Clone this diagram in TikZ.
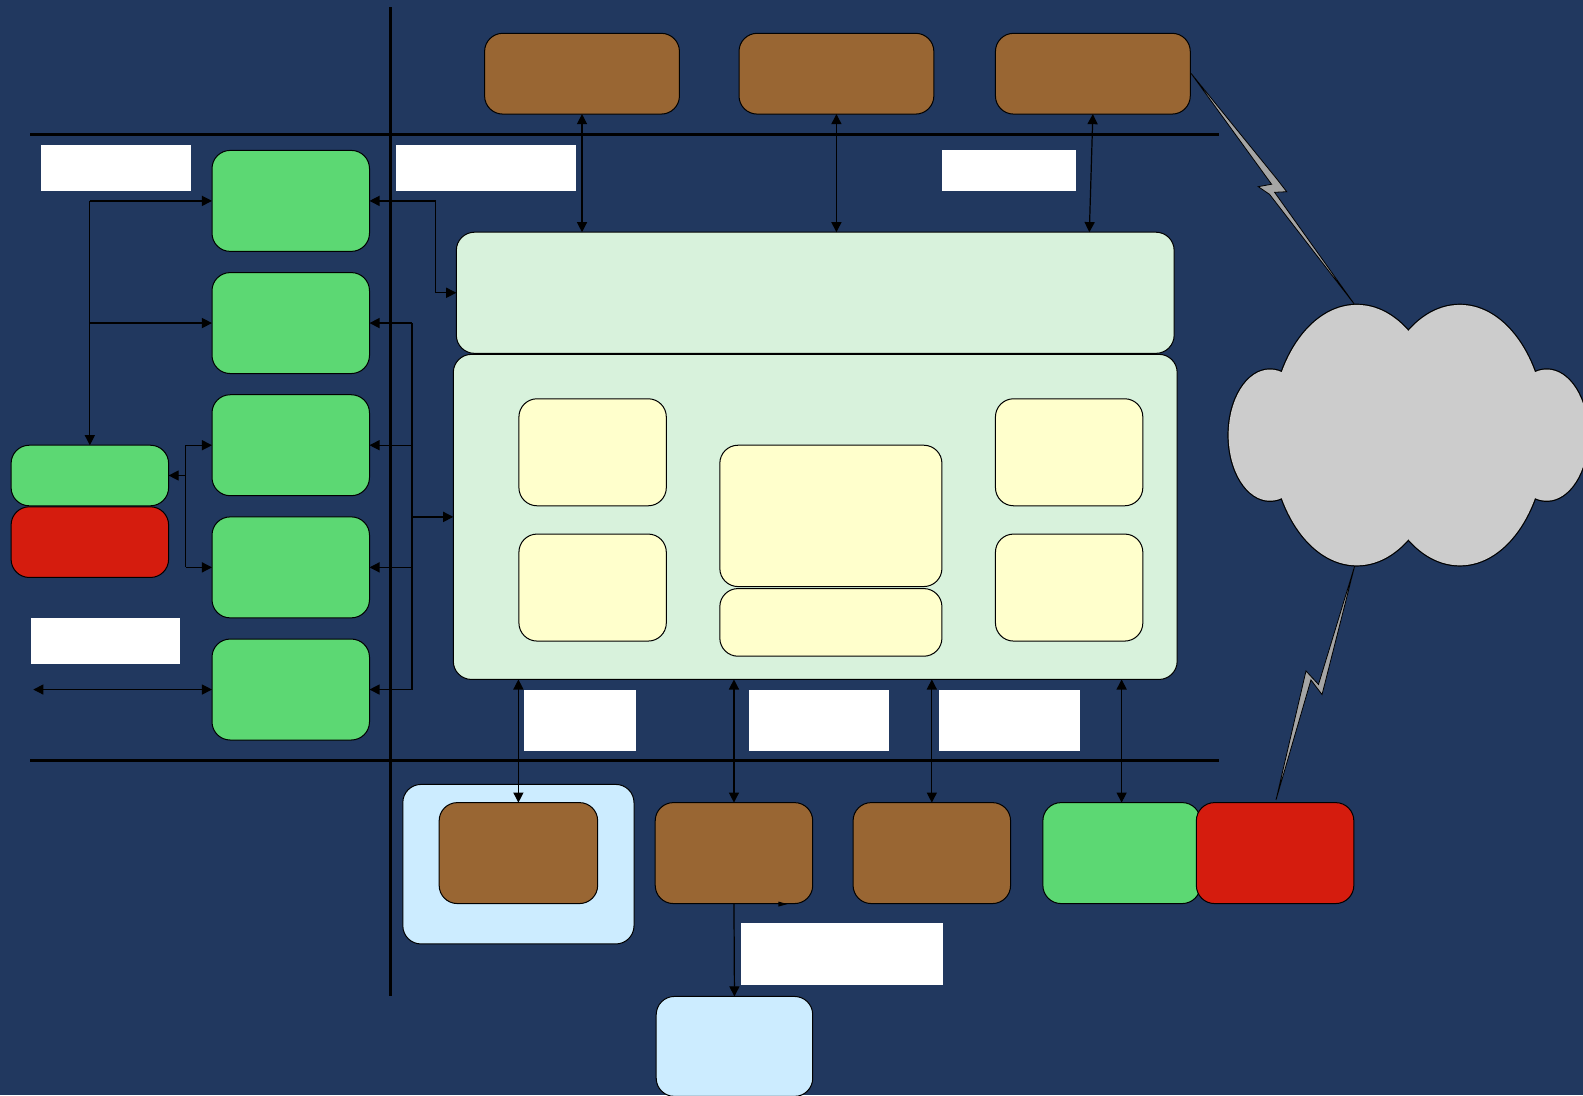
\documentclass[tikz,border=0pt]{standalone}
\usetikzlibrary{arrows.meta,calc}
\definecolor{navy}{RGB}{33,56,95}
\definecolor{brownc}{RGB}{153,102,51}
\definecolor{greenc}{RGB}{92,216,115}
\definecolor{redc}{RGB}{213,28,14}
\definecolor{panelc}{RGB}{216,242,220}
\definecolor{yellowc}{RGB}{255,255,204}
\definecolor{bluec}{RGB}{204,236,255}
\definecolor{cloudc}{RGB}{204,204,204}
\definecolor{boltc}{RGB}{165,165,165}
\begin{document}
\begin{tikzpicture}[x=0.5pt,y=-0.5pt,
  box/.style={draw=black,line width=0.5pt,rounded corners=9pt,inner sep=0pt,outer sep=0pt},
  brownbox/.style={box,fill=brownc,minimum width=78pt,minimum height=50pt},
  greenbox/.style={box,fill=greenc,minimum width=78pt,minimum height=50pt},
  redbox/.style={box,fill=redc,minimum width=78pt,minimum height=50pt},
  panel/.style={box,fill=panelc},
  ybox/.style={box,fill=yellowc},
  lbox/.style={box,fill=bluec},
  wbox/.style={fill=white,inner sep=0pt,outer sep=0pt,anchor=north west},
  conn/.style={line width=0.6pt,draw=black},
  arr/.style={conn,-{Triangle[length=5pt,width=5pt]}},
  darr/.style={conn,{Triangle[length=5pt,width=5pt]}-{Triangle[length=5pt,width=5pt]}},
  axisline/.style={line width=1.5pt,draw=black},
  bolt/.style={fill=boltc,draw=black,line width=0.4pt,line join=miter}]
\useasboundingbox (0,0) rectangle (1568,1085);
\clip (0,0) rectangle (1568,1085);
\fill[navy] (0,0) rectangle (1568,1085);

% axis lines
\draw[axisline] (387,7) -- (387,987);
\draw[axisline] (30,133) -- (1207,133);
\draw[axisline] (30,753) -- (1207,753);

% white labels
\node[wbox,minimum width=74pt,minimum height=22.5pt] (w1) at (41,144) {};
\node[wbox,minimum width=89.5pt,minimum height=22.5pt] (w2) at (392,144) {};
\node[wbox,minimum width=66.5pt,minimum height=20pt] (w3) at (933,149) {};
\node[wbox,minimum width=73.5pt,minimum height=23pt] (w4) at (31,612) {};
\node[wbox,minimum width=55.5pt,minimum height=30.5pt] (w5) at (519,683) {};
\node[wbox,minimum width=69.5pt,minimum height=30.5pt] (w6) at (742,683) {};
\node[wbox,minimum width=70pt,minimum height=30.5pt] (w7) at (930,683) {};
\node[wbox,minimum width=100pt,minimum height=31pt] (w8) at (734,914) {};

% top brown boxes
\node[brownbox,minimum width=96.5pt,minimum height=40pt] (b1) at (576.5,73) {};
\node[brownbox,minimum width=96.5pt,minimum height=40pt] (b2) at (828.5,73) {};
\node[brownbox,minimum width=96.5pt,minimum height=40pt] (b3) at (1082.5,73) {};

% left green column
\node[greenbox] (g1) at (288,199) {};
\node[greenbox] (g2) at (288,320) {};
\node[greenbox] (g3) at (288,441) {};
\node[greenbox] (g4) at (288,562) {};
\node[greenbox] (g5) at (288,683) {};
\node[greenbox,minimum height=30pt] (sg) at (89,471) {};
\node[redbox,minimum height=35pt] (sr) at (89,537) {};

% panels
\node[panel,minimum width=355.5pt,minimum height=60pt] (tp) at (807.5,290) {};
\node[panel,minimum width=358.5pt,minimum height=161pt] (bp) at (807.5,512) {};

% yellow boxes
\node[ybox,minimum width=73pt,minimum height=53pt] (y1) at (587,448) {};
\node[ybox,minimum width=73pt,minimum height=53pt] (y2) at (587,582) {};
\node[ybox,minimum width=110pt,minimum height=70pt] (y3) at (823,511) {};
\node[ybox,minimum width=110pt,minimum height=33.5pt] (y4) at (823,616.5) {};
\node[ybox,minimum width=73pt,minimum height=53pt] (y5) at (1059,448) {};
\node[ybox,minimum width=73pt,minimum height=53pt] (y6) at (1059,582) {};

% bottom row
\node[lbox,minimum width=114.5pt,minimum height=79pt] (lc) at (513.5,856) {};
\node[brownbox,minimum width=78.5pt] (bb1) at (513.5,845) {};
\node[brownbox] (bb2) at (727,845) {};
\node[brownbox] (bb3) at (923,845) {};
\node[greenbox] (bg) at (1111,845) {};
\node[redbox] (br) at (1263,845) {};
\node[lbox,minimum width=77.5pt,minimum height=49.5pt] (lb2) at (727.5,1036.5) {};

% top connectors
\draw[darr] (b1.south) -- (b1.south |- tp.north);
\draw[darr] (b2.south) -- (b2.south |- tp.north);
\draw[darr] (b3.south) -- ([xshift=-1.75pt]b3.south |- tp.north);

% left connectors
\draw[darr] (g1.east) -- ++(32.5pt,0) |- (tp.west);
\coordinate (bt) at ([xshift=21pt]g2.east);
\coordinate (bb) at ([xshift=21pt]g5.east);
\draw[conn] (bt) -- (bb);
\draw[arr] (bt) -- (g2.east);
\draw[arr] (bt |- g3.east) -- (g3.east);
\draw[arr] (bt |- g4.east) -- (g4.east);
\draw[arr] (bb) -- (g5.east);
\draw[arr] (bt |- bp.west) -- (bp.west);

\draw[arr] (sg.north |- g1.west) -- (g1.west);
\draw[arr] (sg.north |- g2.west) -- (g2.west);
\draw[arr] (sg.north |- g1.west) -- (sg.north);

\coordinate (lx) at ([xshift=-13pt]g3.west);
\draw[arr] (lx) -- (g3.west);
\draw[conn] (lx) -- (lx |- g4.west);
\draw[arr] (lx |- g4.west) -- (g4.west);
\draw[arr] (lx |- sg.east) -- (sg.east);

\coordinate (le) at (33,683);
\draw[darr] (le) -- (g5.west);

% bottom connectors
\draw[darr] (bb1.north |- bp.south) -- (bb1.north);
\draw[darr] (bb2.north |- bp.south) -- (bb2.north);
\draw[darr] (bb3.north |- bp.south) -- (bb3.north);
\draw[darr] (bg.north |- bp.south) -- (bg.north);
\draw[arr] (bb2.south) -- (lb2.north);
\fill[black] (771,893) -- (780,895.5) -- (771,898) -- cycle;

% lightning bolts
\draw[bolt] (1179.7,72.6) -- (1264.5,177) -- (1274.5,189.9) -- (1262.5,190.5)
  -- (1342.1,302.1) -- (1257.5,192.5) -- (1246.3,184.9) -- (1259.5,182.5) -- cycle;
\draw[bolt] (1342.1,559.6) -- (1309.5,688) -- (1298.5,673.5) -- (1263.9,792.4)
  -- (1293.6,664.6) -- (1306,678) -- cycle;

% cloud
\begin{scope}
  \draw[line width=1.2pt] (1258,431) ellipse [x radius=20.5pt, y radius=32.5pt];
  \draw[line width=1.2pt] (1532,431) ellipse [x radius=20.5pt, y radius=32.5pt];
  \draw[line width=1.2pt] (1344,431) ellipse [x radius=42.5pt, y radius=64.5pt];
  \draw[line width=1.2pt] (1446,431) ellipse [x radius=42.5pt, y radius=64.5pt];
  \fill[cloudc] (1258,431) ellipse [x radius=20.5pt, y radius=32.5pt];
  \fill[cloudc] (1532,431) ellipse [x radius=20.5pt, y radius=32.5pt];
  \fill[cloudc] (1344,431) ellipse [x radius=42.5pt, y radius=64.5pt];
  \fill[cloudc] (1446,431) ellipse [x radius=42.5pt, y radius=64.5pt];
\end{scope}
\end{tikzpicture}
\end{document}
